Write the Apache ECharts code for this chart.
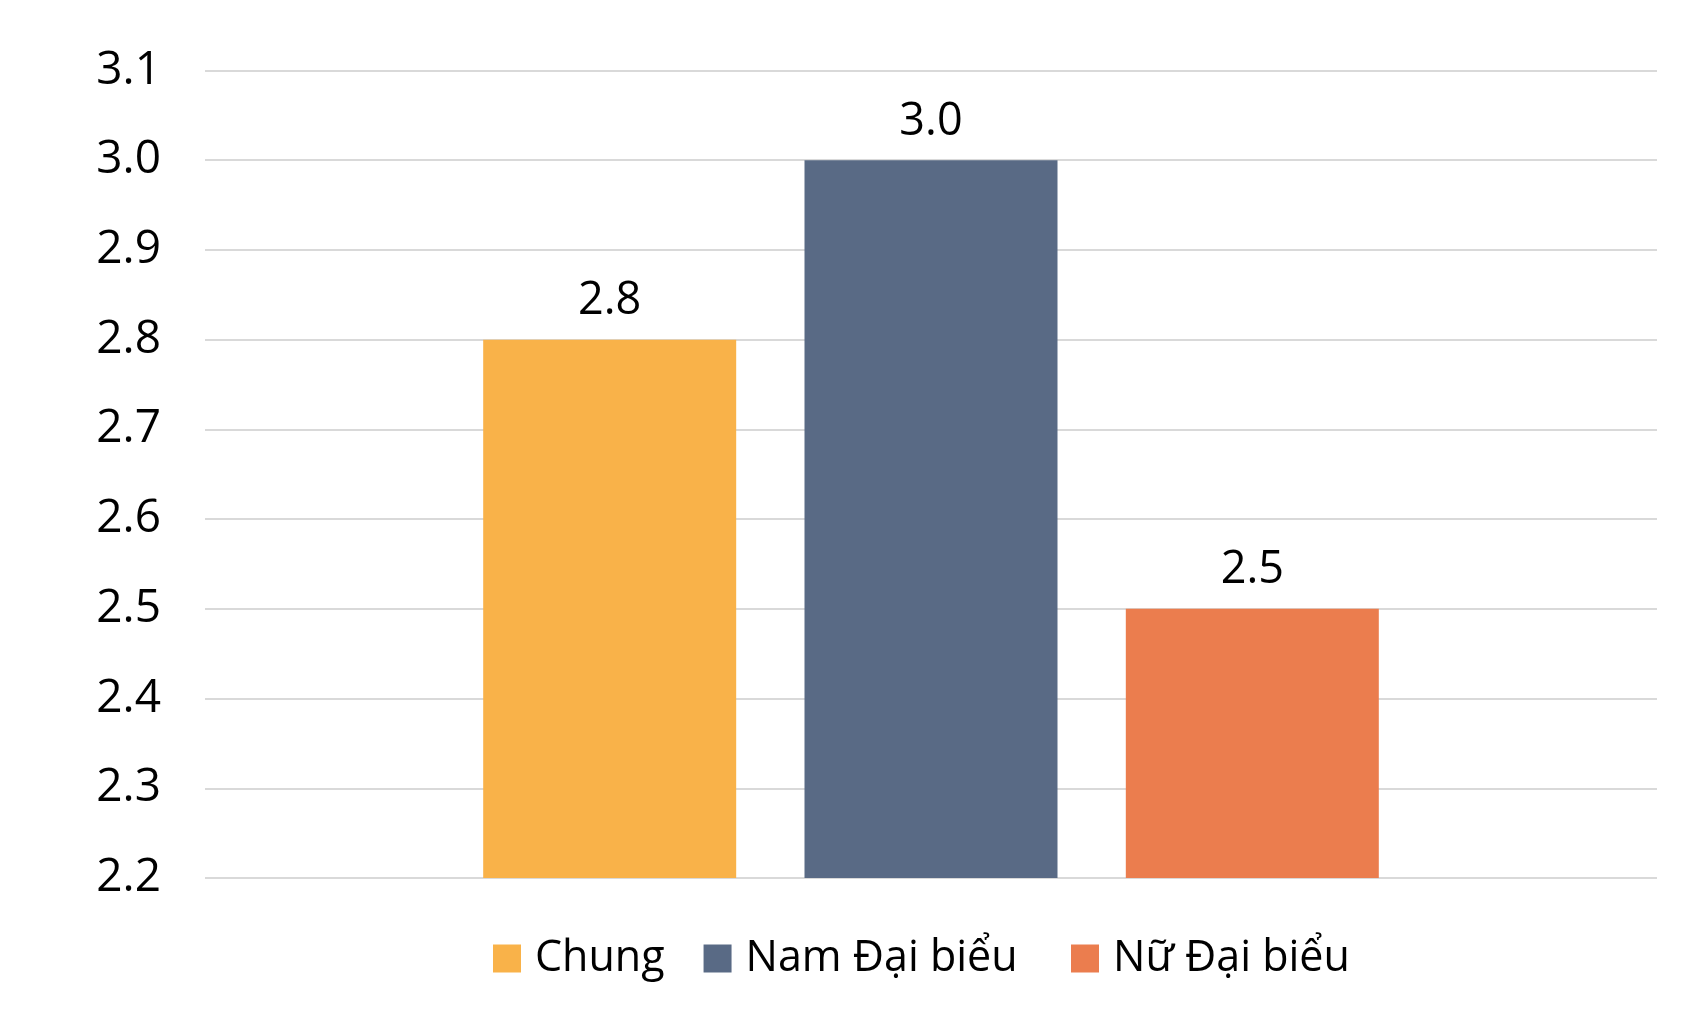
<!DOCTYPE html>
<html>
<head>
<meta charset="utf-8">
<script src="https://cdn.jsdelivr.net/npm/echarts@6/dist/echarts.min.js"></script>
<style>
html,body{margin:0;padding:0;background:#fff;}
#chart{width:1688px;height:1028px;}
</style>
</head>
<body>
<div id="chart"></div>
<script>
const categories = [''];
const seriesNames = ['Chung', 'Nam Đại biểu', 'Nữ Đại biểu'];
const chungValues = [2.8];
const namValues = [3.0];
const nuValues = [2.5];
const seriesColors = ['#F9B249', '#596A85', '#EB7D4E'];
const yMin = 2.2, yMax = 3.1, yStep = 0.1;

const FONT = '"Open Sans", "Noto Sans", sans-serif';
const chart = echarts.init(document.getElementById('chart'));
const valueSets = [chungValues, namValues, nuValues];

const legendBase = {
  top: 937,
  padding: 0,
  icon: 'rect',
  itemWidth: 28,
  itemHeight: 28,
  itemGap: 39,
  textStyle: { fontFamily: FONT, fontSize: 43, color: '#000', padding: [0, 0, 0, 9] }
};

chart.setOption({
  animation: false,
  backgroundColor: '#ffffff',
  grid: { left: 205, right: 31, top: 70.5, bottom: 150, containLabel: false },
  legend: [
    Object.assign({}, legendBase, { data: seriesNames.slice(0, 2), left: 493 }),
    Object.assign({}, legendBase, { data: seriesNames.slice(2), left: 1071 })
  ],
  xAxis: {
    type: 'category',
    data: categories,
    axisLine: { show: false },
    axisTick: { show: false },
    axisLabel: { show: false },
    splitLine: { show: false }
  },
  yAxis: {
    type: 'value',
    min: yMin,
    max: yMax,
    interval: yStep,
    axisLine: { show: false },
    axisTick: { show: false },
    axisLabel: {
      fontFamily: FONT, fontSize: 46, color: '#000', margin: 44,
      formatter: v => v.toFixed(1)
    },
    splitLine: { lineStyle: { color: '#D9D9D9', width: 2 } }
  },
  series: seriesNames.map((name, i) => ({
    name: name,
    type: 'bar',
    data: valueSets[i],
    barWidth: 253,
    barGap: '27%',
    itemStyle: { color: seriesColors[i] },
    label: {
      show: true,
      position: 'top',
      distance: 16,
      fontFamily: FONT,
      fontSize: 45,
      color: '#000',
      formatter: p => p.value.toFixed(1)
    }
  }))
});
</script>
</body>
</html>
